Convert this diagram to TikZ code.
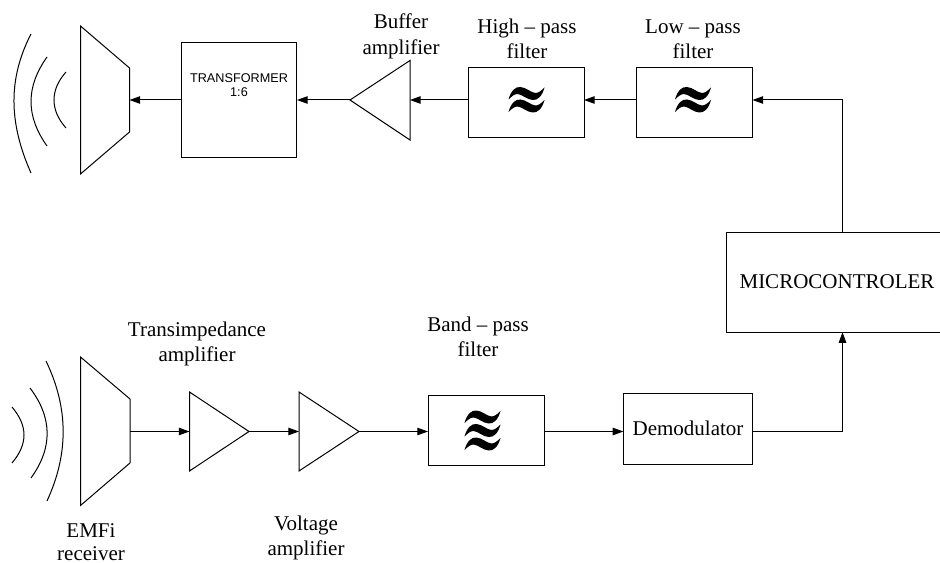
\documentclass[tikz,border=0pt]{standalone}
\usepackage{fontspec}
\setmainfont{Liberation Serif}
\newfontfamily\arialfont{Liberation Sans}
\usetikzlibrary{arrows.meta}
\tikzset{
  line/.style={line width=0.75pt,draw=black,line join=miter},
  blockbox/.style={draw,line width=0.75pt,minimum width=#1,inner sep=0pt,outer sep=0pt,anchor=center},
  conn/.style={line width=0.75pt,-{Triangle[length=8pt,width=5.6pt]}},
  wavearc/.style={line width=0.75pt},
  lab/.style={font=\fontsize{15.75pt}{18pt}\selectfont,anchor=base,inner sep=0pt,align=center},
  onewave/.pic={
    \fill (-18,6) .. controls (-15.5,-3) and (-11,-7) .. (-6,-6.5)
      .. controls (0,-6) and (4,-1) .. (9,-0.5)
      .. controls (12,-0.5) and (15,-3) .. (18,-6)
      .. controls (15.5,3) and (11,7) .. (6,6.5)
      .. controls (0,6) and (-4,1) .. (-9,0.5)
      .. controls (-12,0.5) and (-15,3) .. (-18,6) -- cycle;
  }
}
\begin{document}
\begin{tikzpicture}[x=0.75pt,y=-0.75pt]
\useasboundingbox (0,0) rectangle (940,563);
\coordinate (toprow) at (0,100);
\coordinate (botrow) at (0,431.5);
% blocks
\node[blockbox=86.6pt,minimum height=86.6pt] (trans) at (239.25,100.25) {};
\node[font=\arialfont\fontsize{9.5pt}{11.2pt}\selectfont,align=center,inner sep=0pt,anchor=base] (translab) at (239,97) {TRANSFORMER\\1:6};
\node[blockbox=87pt,minimum height=53.2pt] (hp) at (526,102.5) {};
\node[blockbox=87pt,minimum height=53.2pt] (lp) at (694.5,102.5) {};
\node[blockbox=162pt,minimum height=74.5pt] (micro) at (834,282.5) {};
\node[blockbox=96.6pt,minimum height=53.2pt] (demod) at (687.8,428.8) {};
\node[blockbox=87pt,minimum height=53.2pt] (band) at (486,430.5) {};
% labels
\node[lab] (microlab) at (837,289) {MICROCONTROLER};
\node[lab] (demodlab) at (688,435) {Demodulator};
\node[lab] (bufa) at (401,29) {Buffer};
\node[lab] (bufb) at (401,55) {amplifier};
\node[lab] (hpa) at (527,34) {High -- pass};
\node[lab] (hpb) at (527,59) {filter};
\node[lab] (lpa) at (693,34) {Low -- pass};
\node[lab] (lpb) at (693,59) {filter};
\node[lab] (tia) at (197,337) {Transimpedance};
\node[lab] (tib) at (197,362) {amplifier};
\node[lab] (bpa) at (478,332) {Band -- pass};
\node[lab] (bpb) at (478,357) {filter};
\node[lab] (emfa) at (91,537) {EMFi};
\node[lab] (emfb) at (91,560) {receiver};
\node[lab] (vola) at (306,530) {Voltage};
\node[lab] (volb) at (306,555) {amplifier};
% filter symbols
\path (526.5,93.5) pic {onewave} (526.5,106) pic {onewave};
\path (693,93.5) pic {onewave} (693,106) pic {onewave};
\path (482.5,417) pic {onewave} (482.5,430.5) pic {onewave} (482.5,444) pic {onewave};
% speaker top
\coordinate (spkout) at (129.5,100);
\draw[line] (80.5,26) -- (129.5,68) -- (129.5,132) -- (80.5,174) -- cycle;
\draw[wavearc] (31,34) .. controls (8.3,78) and (8.3,122) .. (31,173);
\draw[wavearc] (47,57) .. controls (25.7,87) and (25.7,116) .. (47,146);
\draw[wavearc] (66,72) .. controls (50,90) and (50,110) .. (66,128);
% buffer
\coordinate (buftip) at (350,100);
\coordinate (bufbase) at (410,100);
\draw[line] (410,60.5) -- (buftip) -- (410,140) -- cycle;
% speaker bottom
\coordinate (rxout) at (130,431.5);
\draw[line] (80.5,357) -- (130,399) -- (130,463) -- (80.5,505.5) -- cycle;
\draw[wavearc] (46,361) .. controls (68.7,408) and (68.7,454) .. (47,501);
\draw[wavearc] (30,388) .. controls (52.7,418) and (52.7,448) .. (31,478);
\draw[wavearc] (12,407) .. controls (28,426) and (28,444) .. (12,463);
% amps
\coordinate (aain) at (189.5,431.5);
\coordinate (aaout) at (249,431.5);
\coordinate (abin) at (299,431.5);
\coordinate (about) at (359,431.5);
\draw[line] (189.5,392) -- (aaout) -- (189.5,471) -- cycle;
\draw[line] (299,392) -- (about) -- (299,471) -- cycle;
% connectors
\coordinate (tap) at (842.5,0);
\draw[conn] (tap |- micro.north) |- (lp.east |- toprow);
\draw[conn] (lp.west |- toprow) -- (hp.east |- toprow);
\draw[conn] (hp.west |- toprow) -- (bufbase);
\draw[conn] (buftip) -- (trans.east |- toprow);
\draw[conn] (trans.west |- toprow) -- (spkout);
\draw[conn] (rxout) -- (aain);
\draw[conn] (aaout) -- (abin);
\draw[conn] (about) -- (band.west |- botrow);
\draw[conn] (band.east |- botrow) -- (demod.west |- botrow);
\draw[conn] (demod.east |- botrow) -| (tap |- micro.south);
\end{tikzpicture}
\end{document}
